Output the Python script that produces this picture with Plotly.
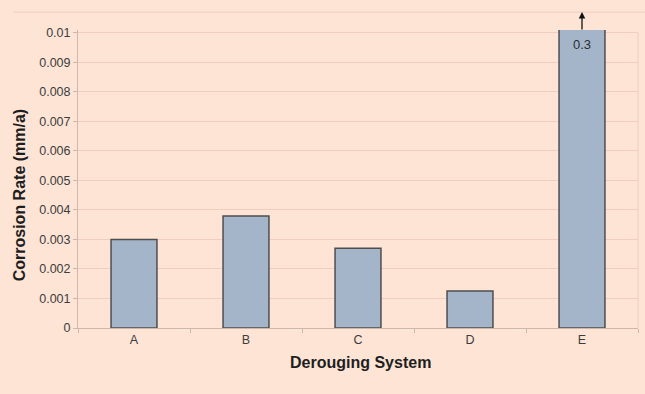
import plotly.graph_objects as go

# Corrosion rate by derouging system
systems = ["A", "B", "C", "D", "E"]
corrosion_rate = [0.003, 0.0038, 0.0027, 0.00125, 0.3]   # mm/a
y_ticks = [0, 0.001, 0.002, 0.003, 0.004, 0.005, 0.006, 0.007, 0.008, 0.009, 0.01]
y_tick_text = ["0", "0.001", "0.002", "0.003", "0.004", "0.005",
               "0.006", "0.007", "0.008", "0.009", "0.01"]

BG = "#fde4d5"
GRID = "#efcebd"
AXIS = "#cdb8ab"
TXT = "#3c3c3c"
TITLE = "#1e1e1e"

fig = go.Figure()
fig.add_trace(go.Bar(
    x=systems,
    y=corrosion_rate,
    width=0.41,
    marker=dict(color="#a4b5c9", line=dict(color="#4e4e4e", width=1.5)),
    hoverinfo="x+y",
))

# off-scale bar E: value label and upward arrow
fig.add_annotation(x="E", y=0.01, yref="y", text="0.3", showarrow=False,
                   yanchor="top", yshift=-2, font=dict(size=13, color="#2e2e2e"))
fig.add_annotation(x="E", y=1.06, yref="paper", text="", showarrow=True,
                   arrowhead=2, arrowsize=1, arrowwidth=1.3, arrowcolor="#111111",
                   ax=0, ay=19)

# axis titles
fig.add_annotation(x=0.504, y=-0.115, xref="paper", yref="paper",
                   text="<b>Derouging System</b>", showarrow=False,
                   xanchor="center", yanchor="middle",
                   font=dict(size=16, color=TITLE))
fig.add_annotation(x=-0.105, y=0.446, xref="paper", yref="paper",
                   text="<b>Corrosion Rate (mm/a)</b>", showarrow=False,
                   textangle=-90, xanchor="center", yanchor="middle",
                   font=dict(size=16, color=TITLE))

# right frame of the plot area
fig.add_shape(type="line", xref="paper", yref="y", x0=1, x1=1, y0=0, y1=0.01,
              line=dict(color=GRID, width=1))
# thin outer chart border along the top
fig.add_shape(type="line", xref="paper", yref="paper", x0=-0.116, x1=1.02,
              y0=1.06, y1=1.06, line=dict(color=GRID, width=1))

fig.update_layout(
    width=645, height=394,
    paper_bgcolor=BG, plot_bgcolor=BG,
    margin=dict(l=78, r=7, t=30, b=66),
    font=dict(family="Arial, Liberation Sans, sans-serif", color=TXT, size=12),
    showlegend=False,
    bargap=0.59,
)
fig.update_xaxes(
    showline=True, linecolor=AXIS, linewidth=1,
    ticks="outside", tickson="boundaries", ticklen=4, tickcolor=AXIS,
    showgrid=False, tickfont=dict(size=12.5, color=TXT),
)
fig.update_yaxes(
    range=[0, 0.0101], tickvals=y_ticks, ticktext=y_tick_text,
    showline=True, linecolor=AXIS, linewidth=1,
    ticks="outside", ticklen=4, tickcolor=AXIS,
    showgrid=True, gridcolor=GRID, gridwidth=1, zeroline=False,
    tickfont=dict(size=12.5, color=TXT),
)

fig.write_html("out.html")
